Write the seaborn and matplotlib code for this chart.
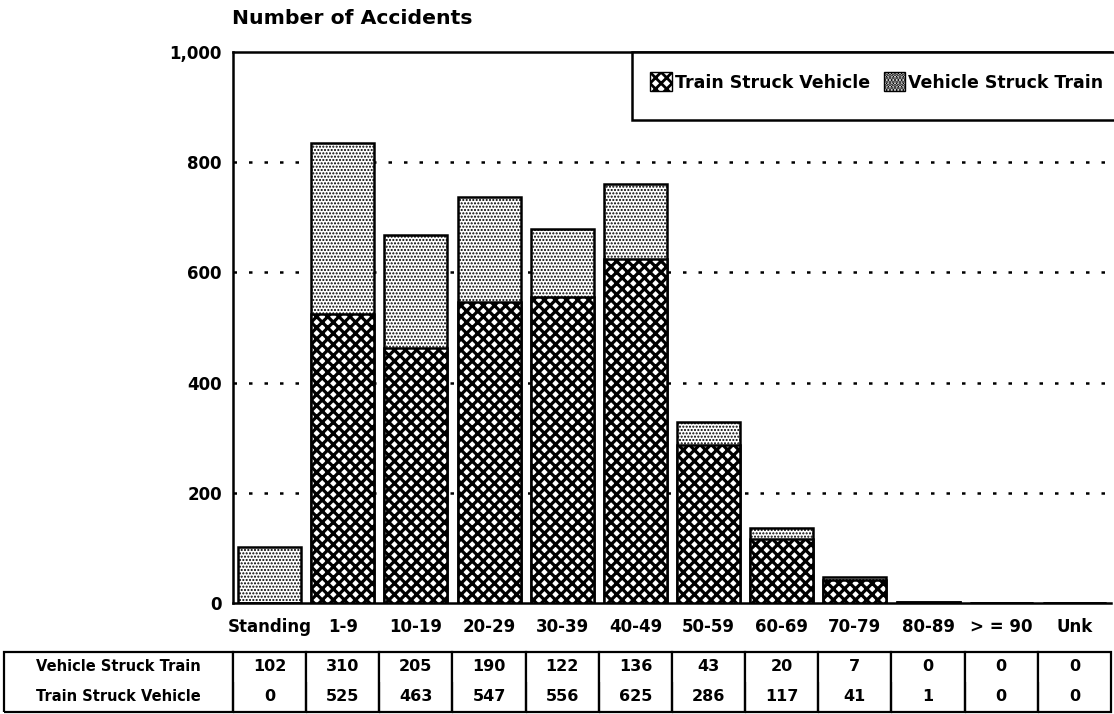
import pandas as pd
import numpy as np
import matplotlib
matplotlib.use('Agg')
import matplotlib.pyplot as plt
import seaborn as sns
from matplotlib.patches import Patch, Rectangle

# ── data ───────────────────────────────────────────────────
speeds = ['Standing', '1-9', '10-19', '20-29', '30-39', '40-49',
          '50-59', '60-69', '70-79', '80-89', '> = 90', 'Unk']
vehicle_struck_train = [102, 310, 205, 190, 122, 136, 43, 20, 7, 0, 0, 0]
train_struck_vehicle = [0, 525, 463, 547, 556, 625, 286, 117, 41, 1, 0, 0]
y_ticks = [0, 200, 400, 600, 800, 1000]
y_tick_labels = ['0', '200', '400', '600', '800', '1,000']

df = pd.DataFrame({'speed': speeds,
                   'vst': vehicle_struck_train,
                   'tsv': train_struck_vehicle})
df['total'] = df['vst'] + df['tsv']

sns.set_style('white')
plt.rcParams['font.family'] = ['DejaVu Sans']
plt.rcParams['font.weight'] = 'bold'
plt.rcParams['text.color'] = 'black'

DOTS = '.....'
CROSS = 'xxx'

fig = plt.figure(figsize=(11.14, 7.14), dpi=100)
ax = fig.add_axes([233 / 1114, 111 / 714, 878 / 1114, 551 / 714])

# dotted gridlines behind the bars
for v in y_ticks[1:-1]:
    ax.axhline(v, color='black', lw=1.8, ls=(0, (1.4, 4.8)), zorder=0)

# top segment (vehicle struck train) = full stack, drawn first
plt.rcParams['hatch.linewidth'] = 1.0
sns.barplot(data=df, x='speed', y='total', color='white', width=0.86,
            hatch=DOTS, edgecolor='black', linewidth=1.8,
            saturation=1, ax=ax, zorder=2)
# bottom segment (train struck vehicle)
plt.rcParams['hatch.linewidth'] = 2.3
sns.barplot(data=df, x='speed', y='tsv', color='white', width=0.86,
            hatch=CROSS, edgecolor='black', linewidth=1.8,
            saturation=1, ax=ax, zorder=3)

ax.set_ylim(0, 1000)
ax.set_xlim(-0.5, 11.5)
ax.set_yticks(y_ticks)
ax.set_yticklabels(y_tick_labels)
ax.set_xlabel('')
ax.set_ylabel('')
ax.tick_params(axis='both', length=0, labelsize=12, colors='black')
ax.tick_params(axis='x', pad=11)
ax.tick_params(axis='y', pad=8)
for lab in ax.get_xticklabels() + ax.get_yticklabels():
    lab.set_fontweight('bold')
for s in ['top', 'left', 'bottom']:
    ax.spines[s].set_color('black')
    ax.spines[s].set_linewidth(1.8)
ax.spines['right'].set_visible(False)

fig.text(232 / 1114, 1 - 18 / 714, 'Number of Accidents', fontsize=14.7,
         fontweight='bold', va='center', ha='left', color='black')

# legend: frame drawn as its own box, entries placed inside near the top
ax.add_patch(Rectangle((0.4544, 0.8766), 0.58, 0.1234, transform=ax.transAxes,
                       facecolor='white', edgecolor='black', lw=1.8, zorder=5,
                       clip_on=False))
plt.rcParams['hatch.linewidth'] = 2.0
handles = [Patch(facecolor='white', edgecolor='black', hatch='xxx', label='Train Struck Vehicle'),
           Patch(facecolor='white', edgecolor='black', hatch='.....', label='Vehicle Struck Train')]
leg = ax.legend(handles=handles, ncol=2, loc='center left',
                bbox_to_anchor=(0.475, 0.9456), fontsize=12.5, frameon=False,
                handlelength=1.26, handleheight=1.26, handletextpad=0.15,
                columnspacing=0.8, borderpad=0, borderaxespad=0,
                labelcolor='black')
leg.set_zorder(6)

# table under the chart
cell_text = [['Vehicle Struck Train'] + [str(v) for v in vehicle_struck_train],
             ['Train Struck Vehicle'] + [str(v) for v in train_struck_vehicle]]
col_w = [229 / 1107] + [73.2 / 1107] * 12
tbl = ax.table(cellText=cell_text, colWidths=col_w, cellLoc='center',
               bbox=[-0.2608, -0.1978, 1.2608, 0.109])
tbl.auto_set_font_size(False)
tbl.set_fontsize(11.5)
for (r, c), cell in tbl.get_celld().items():
    cell.visible_edges = 'LTR' if r == 0 else 'LBR'
    cell.set_linewidth(1.6)
    cell.get_text().set_fontweight('bold')
    cell.get_text().set_color('black')
    if c == 0:
        cell.get_text().set_fontsize(10.5)

fig.savefig('out.png', dpi=100)
